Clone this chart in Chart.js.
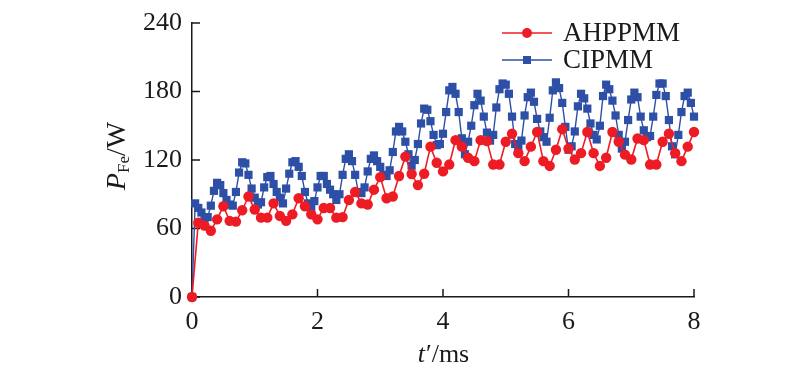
<!DOCTYPE html>
<html>
<head>
<meta charset="utf-8">
<script src="https://cdn.jsdelivr.net/npm/chart.js@4.4.1/dist/chart.umd.min.js"></script>
<style>
  html, body { margin: 0; padding: 0; background: #fff; }
</style>
</head>
<body>
<canvas id="chart-loss" width="800" height="373"></canvas>
<script>
// Iron loss P_Fe vs time — AHPPMM vs CIPMM

const X_TICKS = [0, 2, 4, 6, 8];
const Y_TICKS = [0, 60, 120, 180, 240];
const SERIES_NAMES = ['AHPPMM', 'CIPMM'];
const STEP_AHP = 0.1;   // ms between samples
const STEP_CIP = 0.05;

const lossAhppmm = [
  0, 65, 62.5, 58, 68, 79.5, 66.7, 66, 76, 88,
  76.6, 69.5, 69.5, 82, 71, 66.7, 72.4, 86.5, 79.5, 72.4,
  68, 78, 78, 69.5, 70, 85, 92, 82, 81, 94,
  105, 86.5, 88, 106, 123, 107.7, 98, 108, 131.7, 117.6,
  110, 116, 137.4, 131.7, 122, 119, 137.4, 136.5, 116, 116,
  136, 143, 126, 119, 131.7, 144.5, 119, 114.8, 129, 147,
  130, 120.4, 126, 144.5, 126, 114.8, 122, 144.5, 136, 124.7,
  120.4, 138.8, 137.4, 116, 116, 136, 143, 126, 119, 131.7,
  144.5,
];

const lossCipmm = [
  0, 82, 78, 74, 69, 70, 80, 93, 100, 98,
  91, 85, 81, 80, 92, 109, 118, 117, 107, 95,
  87, 81, 83, 96, 105, 106, 99, 92, 87, 82,
  95, 108, 118, 119, 114, 106, 92, 82, 77, 84,
  96, 106, 106, 99, 94, 90, 85, 90, 107, 121,
  125, 119, 107, 92, 91, 96, 110, 121, 124, 119,
  114, 107, 106, 111, 127, 145, 149, 145, 136, 125,
  115, 120, 134, 152, 165, 164, 154, 142, 133, 134,
  143, 162, 181, 184, 178, 162, 139, 125, 136, 150,
  168, 178, 172, 158, 144, 137, 142, 166, 182, 187,
  186, 178, 158, 134, 131, 137, 159, 175, 179, 171,
  156, 145, 140, 136, 157, 181, 188, 183, 170, 149,
  129, 132, 145, 167, 178, 174, 165, 152, 142, 138,
  150, 176, 186, 182, 172, 159, 142, 130, 136, 155,
  173, 179, 175, 158, 146, 140, 141, 158, 177, 187,
  187, 176, 155, 132, 125, 142, 162, 176, 179, 170,
  158,
];

const RED = '#ed1c24';
const BLUE = '#2d4fa6';
const INK = '#1a1a1a';
const SERIF = '"Times New Roman", "Liberation Serif", Times, serif';

function toPoints(values, step) {
  return values.map((v, i) => ({ x: +(i * step).toFixed(2), y: v }));
}

// inward tick marks on the two axes
const innerTicks = {
  id: 'innerTicks',
  beforeDatasetsDraw(chart) {
    const { ctx, chartArea, scales } = chart;
    ctx.save();
    ctx.strokeStyle = INK;
    ctx.lineWidth = 1.5;
    ctx.beginPath();
    scales.x.ticks.forEach((t) => {
      const px = scales.x.getPixelForValue(t.value);
      ctx.moveTo(px, chartArea.bottom);
      ctx.lineTo(px, chartArea.bottom - 8);
    });
    scales.y.ticks.forEach((t) => {
      const py = scales.y.getPixelForValue(t.value);
      ctx.moveTo(chartArea.left, py);
      ctx.lineTo(chartArea.left + 8, py);
    });
    ctx.stroke();
    ctx.restore();
  },
};

// axis titles with italic symbols and subscript
const axisTitles = {
  id: 'axisTitles',
  afterDraw(chart) {
    const { ctx, chartArea } = chart;
    ctx.save();
    ctx.fillStyle = INK;
    ctx.textBaseline = 'middle';

    // x title: t'/ms
    const cx = (chartArea.left + chartArea.right) / 2;
    ctx.font = `italic 26px ${SERIF}`;
    const wT = ctx.measureText('t').width;
    ctx.font = `26px ${SERIF}`;
    const wRest = ctx.measureText('\u2032/ms').width;
    const x0 = cx - (wT + wRest) / 2;
    ctx.textAlign = 'left';
    ctx.font = `italic 26px ${SERIF}`;
    ctx.fillText('t', x0, 355);
    ctx.font = `26px ${SERIF}`;
    ctx.fillText('\u2032/ms', x0 + wT + 1, 355);

    // y title: P_Fe/W, rotated
    ctx.translate(125, 156);
    ctx.rotate(-Math.PI / 2);
    ctx.textBaseline = 'alphabetic';
    ctx.font = `italic 28px ${SERIF}`;
    const wP = ctx.measureText('P').width;
    ctx.font = `17px ${SERIF}`;
    const wFe = ctx.measureText('Fe').width;
    ctx.font = `28px ${SERIF}`;
    const wW = ctx.measureText('/W').width;
    const y0 = -(wP + wFe + wW) / 2;
    ctx.font = `italic 28px ${SERIF}`;
    ctx.fillText('P', y0, 0);
    ctx.font = `17px ${SERIF}`;
    ctx.fillText('Fe', y0 + wP, 4);
    ctx.font = `28px ${SERIF}`;
    ctx.fillText('/W', y0 + wP + wFe, 0);
    ctx.restore();
  },
};

// legend inside the plot, top right
const legendBox = {
  id: 'legendBox',
  afterDraw(chart) {
    const ctx = chart.ctx;
    const rows = [
      { name: SERIES_NAMES[0], color: RED, shape: 'circle', y: 33 },
      { name: SERIES_NAMES[1], color: BLUE, shape: 'square', y: 60 },
    ];
    ctx.save();
    rows.forEach((r) => {
      ctx.strokeStyle = r.color;
      ctx.fillStyle = r.color;
      ctx.lineWidth = 1.6;
      ctx.beginPath();
      ctx.moveTo(502, r.y);
      ctx.lineTo(552, r.y);
      ctx.stroke();
      if (r.shape === 'circle') {
        ctx.beginPath();
        ctx.arc(527, r.y, 5, 0, Math.PI * 2);
        ctx.fill();
      } else {
        ctx.fillRect(523, r.y - 4, 8, 8);
      }
      ctx.fillStyle = INK;
      ctx.font = `27px ${SERIF}`;
      ctx.textAlign = 'left';
      ctx.textBaseline = 'middle';
      ctx.fillText(r.name, 563, r.y + 1);
    });
    ctx.restore();
  },
};

const ctx = document.getElementById('chart-loss').getContext('2d');
new Chart(ctx, {
  type: 'line',
  data: {
    datasets: [
      {
        label: SERIES_NAMES[0],
        data: toPoints(lossAhppmm, STEP_AHP),
        borderColor: RED,
        backgroundColor: RED,
        borderWidth: 1.6,
        pointStyle: 'circle',
        pointRadius: 5.2,
        pointBorderWidth: 0,
        tension: 0,
        clip: false,
      },
      {
        label: SERIES_NAMES[1],
        data: toPoints(lossCipmm, STEP_CIP),
        borderColor: BLUE,
        backgroundColor: BLUE,
        borderWidth: 1.4,
        pointStyle: 'rect',
        pointRadius: 5.8,
        pointBorderWidth: 0,
        tension: 0,
        clip: false,
      },
    ],
  },
  options: {
    responsive: false,
    animation: false,
    devicePixelRatio: 1,
    layout: { padding: { left: 0, right: 106, top: 14, bottom: 0 } },
    plugins: { legend: { display: false }, tooltip: { enabled: false } },
    scales: {
      x: {
        type: 'linear',
        min: 0,
        max: 8,
        afterBuildTicks: (s) => { s.ticks = X_TICKS.map((v) => ({ value: v })); },
        afterFit: (s) => { s.height = 76; },
        grid: { display: false, drawTicks: false },
        border: { display: true, color: INK, width: 1.5 },
        ticks: { color: INK, padding: 12, maxRotation: 0, font: { family: SERIF, size: 26, lineHeight: 1 } },
      },
      y: {
        min: 0,
        max: 240,
        afterBuildTicks: (s) => { s.ticks = Y_TICKS.map((v) => ({ value: v })); },
        afterFit: (s) => { s.width = 192; },
        grid: { display: false, drawTicks: false },
        border: { display: true, color: INK, width: 1.5 },
        ticks: { color: INK, padding: 10, font: { family: SERIF, size: 26, lineHeight: 1 } },
      },
    },
  },
  plugins: [innerTicks, axisTitles, legendBox],
});
</script>
</body>
</html>
